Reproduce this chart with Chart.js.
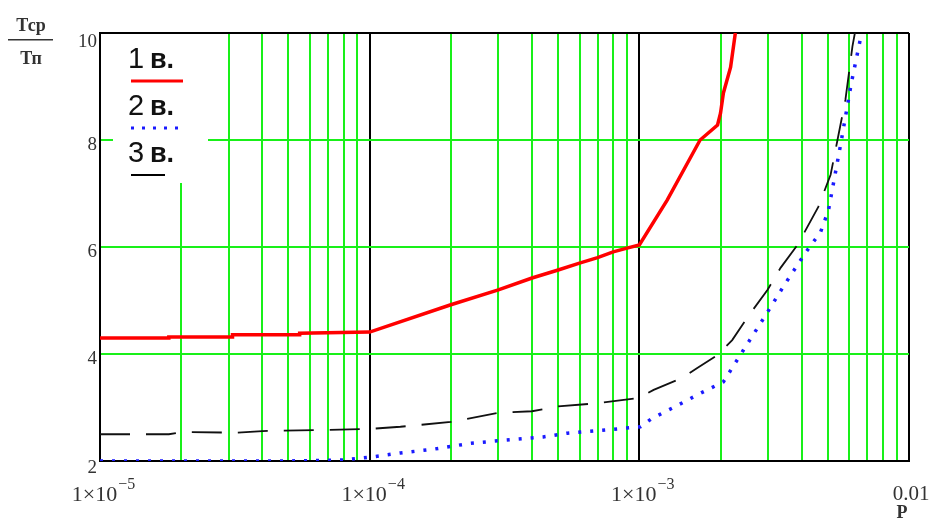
<!DOCTYPE html>
<html>
<head>
<meta charset="utf-8">
<script src="https://cdn.jsdelivr.net/npm/chart.js@4.4.0/dist/chart.umd.min.js"></script>
<style>
  body { margin: 0; background: #fff; }
</style>
</head>
<body>
<canvas id="myChart" width="932" height="519"></canvas>
<script>
// curve 1 (1 в.) - red solid
var pRed = [1e-5, 1.8e-5, 1.8e-5, 3.1e-5, 3.1e-5, 5.5e-5, 5.5e-5, 1e-4, 2e-4, 3e-4, 4e-4, 5e-4, 6e-4, 7e-4, 8e-4, 9e-4, 1e-3, 1.27e-3, 1.68e-3, 1.95e-3, 2.0e-3, 2.05e-3, 2.18e-3, 2.27e-3];
var tRed = [4.30, 4.30, 4.32, 4.32, 4.36, 4.36, 4.39, 4.41, 4.92, 5.20, 5.42, 5.57, 5.70, 5.80, 5.91, 5.98, 6.04, 6.88, 8.00, 8.28, 8.50, 8.88, 9.36, 10.0];

// curve 2 (2 в.) - blue dotted
var pBlue = [1e-5, 5e-5, 8e-5, 1e-4, 1.3e-4, 1.72e-4, 2.36e-4, 3.18e-4, 4.4e-4, 5.41e-4, 7.48e-4, 1.01e-3, 1.11e-3, 1.35e-3, 1.66e-3, 2.05e-3, 2.43e-3, 2.91e-3, 3.45e-3, 4.13e-3, 4.7e-3, 5.03e-3, 5.57e-3, 6.12e-3, 6.61e-3];
var tBlue = [2.00, 2.00, 2.02, 2.07, 2.15, 2.22, 2.33, 2.39, 2.45, 2.52, 2.58, 2.64, 2.79, 3.01, 3.25, 3.48, 4.07, 4.69, 5.29, 5.89, 6.28, 6.69, 7.90, 9.08, 9.90];

// curve 3 (3 в.) - black dashed
var pBlack = [1e-5, 1.8e-5, 2e-5, 3.2e-5, 4e-5, 6.7e-5, 1e-4, 1.3e-4, 2e-4, 3e-4, 4e-4, 5e-4, 7e-4, 1e-3, 1.13e-3, 1.44e-3, 1.64e-3, 1.95e-3, 2.21e-3, 2.52e-3, 2.99e-3, 3.34e-3, 3.86e-3, 4.61e-3, 5.12e-3, 5.43e-3, 5.81e-3, 6.17e-3, 6.3e-3];
var tBlack = [2.50, 2.50, 2.54, 2.53, 2.56, 2.58, 2.60, 2.64, 2.73, 2.90, 2.93, 3.02, 3.08, 3.18, 3.33, 3.55, 3.74, 3.98, 4.26, 4.69, 5.20, 5.61, 6.04, 6.75, 7.35, 8.00, 8.75, 9.75, 10.0];

// axis ticks
var yTicks = [2, 4, 6, 8, 10];
var xDecades = [-5, -4, -3];
var xLabelExp = ['−5', '−4', '−3'];

var legendNames = ['1', '2', '3'];

function toPoints(xs, ys) {
    var pts = [];
    for (var i = 0; i < xs.length; i++) {
        pts.push({x: xs[i], y: ys[i]});
    }
    return pts;
}

function isDecade(v) {
    var l = Math.log10(v);
    return Math.abs(l - Math.round(l)) < 1e-6;
}

var green = '#19f019';

// white box for legend + all the text
var mathcadPlugin = {
    id: 'mathcad',
    beforeDatasetsDraw: function(chart) {
        var c = chart.ctx;
        c.save();
        c.fillStyle = '#fff';
        c.fillRect(113, 34, 95, 149);
        c.restore();
    },
    afterDraw: function(chart) {
        var c = chart.ctx;
        var xs = chart.scales.x;
        var ys = chart.scales.y;
        c.save();
        c.fillStyle = '#333';

        // y tick labels
        c.font = '19px "Liberation Serif"';
        c.textAlign = 'right';
        c.textBaseline = 'alphabetic';
        yTicks.forEach(function(v) {
            var py = ys.getPixelForValue(v);
            var off = 10;
            if (v == ys.max) off = 14;
            if (v == ys.min) off = 12;
            c.fillText(String(v), 97, py + off);
        });

        // y axis title  Тср / Тп
        c.textAlign = 'center';
        c.font = 'bold 18px "Liberation Serif"';
        c.fillText('Тср', 31, 31);
        c.fillText('Тп', 31, 64);
        c.fillRect(8, 39, 45, 1.5);

        // x tick labels 1×10^-n
        xDecades.forEach(function(e, i) {
            var px = xs.getPixelForValue(Math.pow(10, e));
            c.font = '22px "Liberation Serif"';
            var w1 = c.measureText('1×10').width;
            c.font = '16px "Liberation Serif"';
            var w2 = c.measureText(xLabelExp[i]).width;
            var left = px + 3 - (w1 + w2) / 2;
            c.textAlign = 'left';
            c.font = '22px "Liberation Serif"';
            c.fillText('1×10', left, 501);
            c.font = '16px "Liberation Serif"';
            c.fillText(xLabelExp[i], left + w1 + 1, 489);
        });
        var pEnd = xs.getPixelForValue(xs.max);
        c.textAlign = 'center';
        c.font = '21px "Liberation Serif"';
        c.fillText('0.01', pEnd + 2, 500);
        c.font = 'bold 18px "Liberation Serif"';
        c.fillText('P', pEnd - 7, 518);

        // legend
        var rows = [
            {y: 68, color: '#ff0000', dash: [], width: 3, x2: 183},
            {y: 115, color: '#1a1aff', dash: [3, 8], width: 3, x2: 180},
            {y: 162, color: '#000', dash: [], width: 1.8, x2: 165}
        ];
        rows.forEach(function(r, i) {
            c.fillStyle = '#111';
            c.textAlign = 'left';
            c.font = '29px "Liberation Sans"';
            c.fillText(legendNames[i], 128, r.y);
            c.font = 'bold 27px "Liberation Sans"';
            c.fillText('в.', 150, r.y);
            c.strokeStyle = r.color;
            c.lineWidth = r.width;
            c.setLineDash(r.dash);
            c.beginPath();
            c.moveTo(131, r.y + 13);
            c.lineTo(r.x2, r.y + 13);
            c.stroke();
        });
        c.restore();
    }
};

var ctx = document.getElementById('myChart').getContext('2d');
var myChart = new Chart(ctx, {
    type: 'line',
    data: {
        datasets: [{
            label: '1 в.',
            data: toPoints(pRed, tRed),
            borderColor: '#ff0000',
            borderWidth: 3.5,
            pointRadius: 0,
            order: 1
        }, {
            label: '2 в.',
            data: toPoints(pBlue, tBlue),
            borderColor: '#1a1aff',
            borderWidth: 3.5,
            borderDash: [3, 9],
            pointRadius: 0,
            order: 2
        }, {
            label: '3 в.',
            data: toPoints(pBlack, tBlack),
            borderColor: '#111',
            borderWidth: 1.8,
            borderDash: [30, 16],
            pointRadius: 0,
            order: 3
        }]
    },
    options: {
        responsive: false,
        animation: false,
        layout: {
            padding: {left: 100, right: 23, top: 33, bottom: 58}
        },
        plugins: {
            legend: {display: false},
            tooltip: {enabled: false}
        },
        scales: {
            x: {
                type: 'logarithmic',
                min: 1e-5,
                max: 1e-2,
                afterBuildTicks: function(scale) {
                    var t = [];
                    xDecades.forEach(function(e) {
                        for (var m = 1; m <= 9; m++) {
                            t.push({value: m * Math.pow(10, e)});
                        }
                    });
                    t.push({value: 1e-2});
                    scale.ticks = t;
                },
                ticks: {display: false, autoSkip: false},
                grid: {
                    drawTicks: false,
                    color: function(c) {
                        return isDecade(c.tick.value) ? '#000' : green;
                    },
                    lineWidth: 2
                },
                border: {color: '#000', width: 2}
            },
            y: {
                min: 2,
                max: 10,
                ticks: {display: false, stepSize: 2},
                grid: {
                    drawTicks: false,
                    color: function(c) {
                        var v = c.tick.value;
                        return (v == 2 || v == 10) ? '#000' : green;
                    },
                    lineWidth: 2
                },
                border: {color: '#000', width: 2}
            }
        }
    },
    plugins: [mathcadPlugin]
});
</script>
</body>
</html>
